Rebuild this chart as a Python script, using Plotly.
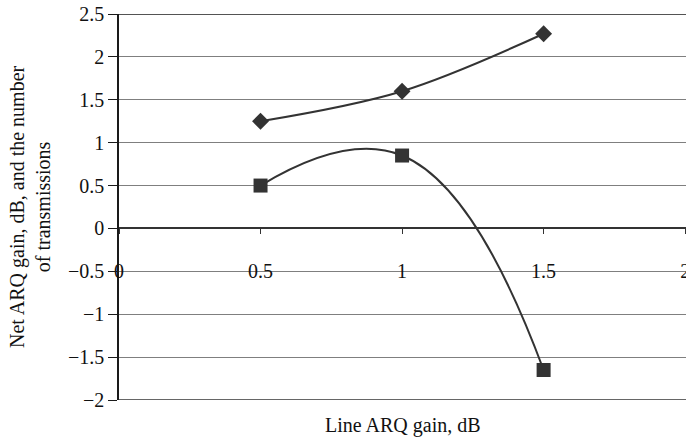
import plotly.graph_objects as go

# Line ARQ gain (dB) on the x axis
line_gain = [0.5, 1.0, 1.5]
# Number of transmissions (diamonds) and net ARQ gain in dB (squares)
transmissions = [1.25, 1.6, 2.27]
net_gain = [0.5, 0.85, -1.65]

x_ticks = [0, 0.5, 1, 1.5, 2]
x_tick_text = ["0", "0.5", "1", "1.5", "2"]
y_ticks = [-2, -1.5, -1, -0.5, 0, 0.5, 1, 1.5, 2, 2.5]

W, H = 686, 438
ML, MR, MT, MB = 119, 0, 14, 38
ink = "#333333"
family = "Liberation Serif, Times New Roman, serif"
tick_font = dict(family=family, size=20, color="#111111")
title_font = dict(family=family, size=20, color="#111111")

fig = go.Figure()
fig.add_trace(go.Scatter(
    x=line_gain, y=transmissions, mode="lines+markers",
    line=dict(color=ink, width=2, shape="spline", smoothing=1),
    marker=dict(symbol="diamond", size=13, color=ink),
    showlegend=False,
))
fig.add_trace(go.Scatter(
    x=line_gain, y=net_gain, mode="lines+markers",
    line=dict(color=ink, width=2, shape="spline", smoothing=1.3),
    marker=dict(symbol="square", size=14, color=ink),
    showlegend=False,
))

fig.update_layout(
    width=W, height=H,
    margin=dict(l=ML, r=MR, t=MT, b=MB, autoexpand=False),
    paper_bgcolor="white", plot_bgcolor="white",
    font=tick_font,
    xaxis=dict(
        range=[0, 2.003], tickvals=x_ticks, ticktext=x_tick_text,
        anchor="free", position=4 / 9,
        showline=True, linecolor="#333333", linewidth=1.5,
        ticks="outside", ticklen=5, tickcolor="#333333",
        ticklabelstandoff=20, tickfont=tick_font,
        ticklabeloverflow="allow",
        showgrid=False, zeroline=False, automargin=False,
    ),
    yaxis=dict(
        range=[-2, 2.5], tickvals=y_ticks, tickfont=tick_font,
        showline=True, linecolor="#1a1a1a", linewidth=1.5,
        ticks="outside", ticklen=9, tickcolor="#1a1a1a",
        showgrid=True, gridcolor="#7f7f7f", gridwidth=1.2,
        zeroline=False, automargin=False,
    ),
    annotations=[
        dict(text="Line ARQ gain, dB", xref="paper", yref="paper",
             x=0.5, y=-0.03, xanchor="center", yanchor="top",
             showarrow=False, font=title_font),
        dict(text="Net ARQ gain, dB, and the number<br>of transmissions",
             xref="paper", yref="paper", x=(30 - ML) / (W - ML - MR), y=0.5,
             xanchor="center", yanchor="middle", textangle=-90,
             showarrow=False, font=title_font),
    ],
)

# Frame lines at the top and bottom of the value range
fig.add_shape(type="line", xref="paper", yref="y", x0=0, x1=1, y0=2.5, y1=2.5,
              line=dict(color="#1a1a1a", width=1.5))
fig.add_shape(type="line", xref="paper", yref="y", x0=0, x1=1, y0=-2, y1=-2,
              line=dict(color="#333333", width=1.5))

fig.write_html("out.html")
